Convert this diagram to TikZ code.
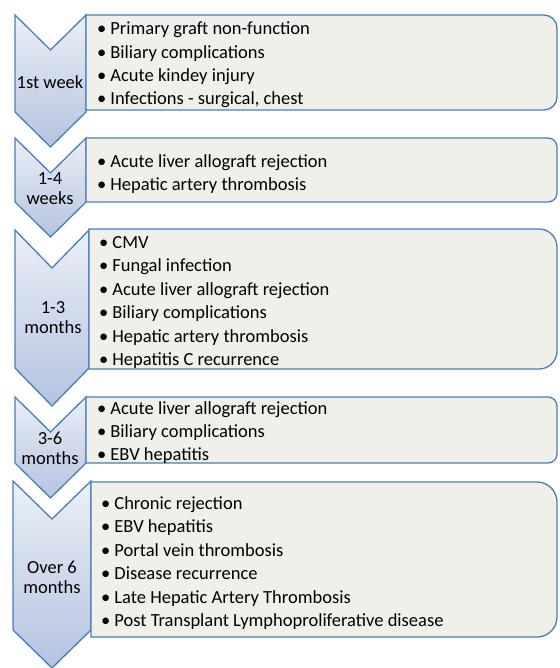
\documentclass[tikz,border=0pt]{standalone}
\usepackage{fontspec}
\setmainfont{Carlito}
\definecolor{edge}{HTML}{4A7EBB}
\definecolor{boxfill}{HTML}{F0EFE9}
\definecolor{chtop}{HTML}{EBEFF7}
\definecolor{chbot}{HTML}{B4C3DF}
\tikzset{
  chev/.style={draw=edge, line width=1.3bp, top color=chtop, bottom color=chbot, line join=miter},
  listbox/.style={draw=edge, line width=1.3bp, fill=boxfill},
  lbl/.style={font=\fontsize{18.5bp}{20bp}\selectfont, align=center, inner sep=0pt, text=black},
  items/.style={font=\fontsize{18.5bp}{23.4bp}\selectfont, align=left, anchor=west, inner sep=0pt, text=black},
}
% #1 xl, #2 xr, #3 top, #4 shoulder, #5 depth
\newcommand\mychev[5]{%
  \path[chev] (#1,#3) -- ({(#1+#2)/2},{#3+#5}) -- (#2,#3) -- (#2,#4)
    -- ({(#1+#2)/2},{#4+#5}) -- (#1,#4) -- cycle;}
% #1 xl, #2 xr, #3 top, #4 bottom, #5 radius
\newcommand\mybox[5]{%
  \path[listbox] (#1,#3) -- ({#2-#5},#3) arc[start angle=90,end angle=0,radius=#5bp]
    -- (#2,{#4-#5}) arc[start angle=0,end angle=-90,radius=#5bp] -- (#1,#4) -- cycle;}
\newcommand\bul{•\hspace{4bp}}
\begin{document}
\begin{tikzpicture}[x=1bp,y=-1bp]
\useasboundingbox (0,0) rectangle (560,668);
\fill[white] (0,0) rectangle (560,668);

\mychev{15}{86}{15}{112}{35}
\mybox{86}{557}{15}{110}{13}
\mychev{15}{86}{138}{202}{35}
\mybox{86}{557}{138}{202}{9}
\mychev{15}{89}{230}{368}{38}
\mybox{89}{557}{229}{369}{18}
\mychev{15}{86}{397}{463}{35}
\mybox{86}{557}{397}{463}{9}
\mychev{13}{91}{481}{630}{38}
\mybox{91}{557}{482}{637}{20}

\node[lbl] (l1) at (50,82) {1st week};
\node[lbl] (l2) at (50,189) {1-4\\weeks};
\node[lbl] (l3) at (53,318) {1-3\\months};
\node[lbl] (l4) at (50,448) {3-6\\months};
\node[lbl] (l5) at (52,577) {Over 6\\months};

\node[items] (t1) at (97,65) {\bul Primary graft non-function\\\bul Biliary complications\\\bul Acute kindey injury\\\bul Infections - surgical, chest};
\node[items] (t2) at (97,174) {\bul Acute liver allograft rejection\\\bul Hepatic artery thrombosis};
\node[items] (t3) at (99,302.5) {\bul CMV\\\bul Fungal infection\\\bul Acute liver allograft rejection\\\bul Biliary complications\\\bul Hepatic artery thrombosis\\\bul Hepatitis C recurrence};
\node[items] (t4) at (97,432.5) {\bul Acute liver allograft rejection\\\bul Biliary complications\\\bul EBV hepatitis};
\node[items] (t5) at (101,563) {\bul Chronic rejection\\\bul EBV hepatitis\\\bul Portal vein thrombosis\\\bul Disease recurrence\\\bul Late Hepatic Artery Thrombosis\\\bul Post Transplant Lymphoproliferative disease};
\end{tikzpicture}
\end{document}
